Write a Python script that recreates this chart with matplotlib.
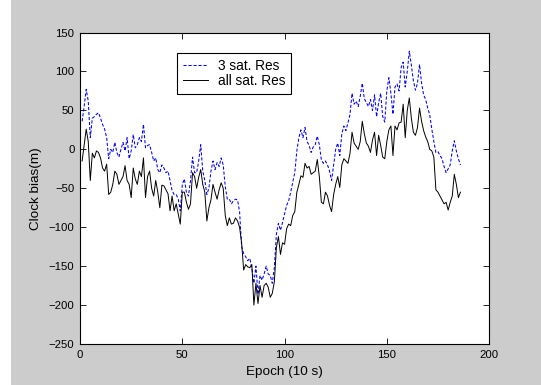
import numpy as np
import matplotlib
matplotlib.use('Agg')
import matplotlib.pyplot as plt
from matplotlib.patches import Rectangle

# Receiver clock bias per epoch, two solutions
epochs = np.arange(1, 187)

all_sat = [
    -15, 5, 26, 10, -40, -5, -11, -2, -4, -11,
    -24, -28, -19, -58, -55, -45, -28, -32, -45, -40,
    -35, -21, -40, -45, -62, -24, -38, -45, -28, -35,
    -11, -62, -35, -28, -50, -60, -40, -55, -75, -46,
    -47, -52, -57, -79, -60, -79, -70, -83, -96, -55,
    -55, -68, -77, -70, -30, -35, -50, -36, -26, -45,
    -55, -92, -75, -65, -45, -55, -64, -52, -43, -50,
    -85, -98, -88, -96, -95, -88, -92, -100, -120, -155,
    -148, -151, -152, -148, -200, -172, -198, -175, -190, -175,
    -172, -177, -190, -185, -170, -126, -112, -135, -120, -122,
    -102, -96, -98, -85, -80, -55, -45, -34, -36, -18,
    -24, -22, -32, -30, -28, -13, -35, -68, -70, -55,
    -60, -72, -80, -58, -45, -35, -49, -20, -12, -15,
    -18, -5, 22, 8, 4, 0, 10, 36, 20, 8,
    4, -4, 12, 22, -8, 18, 5, -10, -12, 10,
    25, 30, -8, 30, 25, 34, 35, 58, 15, 50,
    66, 40, 22, 18, 28, 53, 36, 24, 16, 10,
    0, -2, -10, -52, -55, -60, -65, -70, -68, -78,
    -68, -60, -32, -45, -62, -55,
]

three_sat = [
    36, 55, 77, 62, 15, 40, 42, 45, 47, 40,
    32, 26, 15, -12, 0, -4, 9, -4, -10, 0,
    9, -2, 15, -12, -2, 19, 2, 6, 15, 10,
    32, 2, 5, 6, -4, -15, -11, -26, -30, -20,
    -24, -30, -28, -40, -53, -58, -58, -64, -79, -45,
    -38, -55, -60, -40, -10, -30, -30, -15, 6, -28,
    -40, -58, -50, -28, -15, -26, -17, -22, -11, -20,
    -48, -64, -64, -70, -66, -64, -65, -80, -125, -134,
    -138, -143, -140, -153, -172, -150, -186, -162, -168, -160,
    -150, -160, -162, -172, -152, -109, -95, -104, -94, -83,
    -72, -66, -55, -42, -30, -2, 15, 25, 15, 28,
    10, 5, -4, 3, 6, 17, 6, -14, -18, -15,
    -20, -28, -40, -20, 0, 8, -8, 20, 30, 24,
    34, 45, 72, 58, 62, 55, 68, 85, 65, 60,
    55, 64, 50, 70, 42, 60, 72, 42, 35, 75,
    92, 72, 45, 80, 84, 75, 105, 112, 80, 100,
    126, 108, 88, 76, 85, 109, 85, 70, 64, 53,
    44, 26, 10, -4, -3, -8, -12, -22, -30, -25,
    -20, -2, 11, -2, -12, -20,
]

x_ticks = [0, 50, 100, 150, 200]
y_ticks = [-250, -200, -150, -100, -50, 0, 50, 100, 150]

plt.rcParams['font.family'] = ['Liberation Sans', 'DejaVu Sans']

fig = plt.figure(figsize=(5.41, 3.85), dpi=100)
fig.patch.set_facecolor('#cccccc')
# thin white margin on the left edge of the window
fig.patches.append(Rectangle((0, 0), 11 / 541, 1, transform=fig.transFigure,
                             facecolor='white', edgecolor='none'))

ax = fig.add_axes([0.148, 0.1065, 0.756, 0.809])
ax.set_facecolor('white')

ax.plot(epochs, three_sat, color='blue', linewidth=0.75, linestyle='--',
        dashes=(3, 1.8), label='3 sat. Res')
ax.plot(epochs, all_sat, color='black', linewidth=0.7, label='all sat. Res')

ax.set_xlim(0, 200)
ax.set_ylim(-250, 150)
ax.set_xticks(x_ticks)
ax.set_yticks(y_ticks)
ax.tick_params(direction='in', top=True, right=True, length=4, width=0.6,
               labelsize=8.2, pad=4)
for s in ax.spines.values():
    s.set_linewidth(0.8)

ax.set_xlabel('Epoch (10 s)', fontsize=9.7, labelpad=5)
ax.set_ylabel('Clock bias(m)', fontsize=9.7, labelpad=5)

leg = ax.legend(loc='upper left', bbox_to_anchor=(0.237, 0.934),
                borderaxespad=0, fancybox=False, framealpha=1,
                edgecolor='black', fontsize=9.8, handlelength=1.8,
                borderpad=0.45, labelspacing=0.05, handletextpad=0.75)
leg.get_frame().set_linewidth(0.8)

fig.savefig('out.png', dpi=100, facecolor=fig.get_facecolor())
